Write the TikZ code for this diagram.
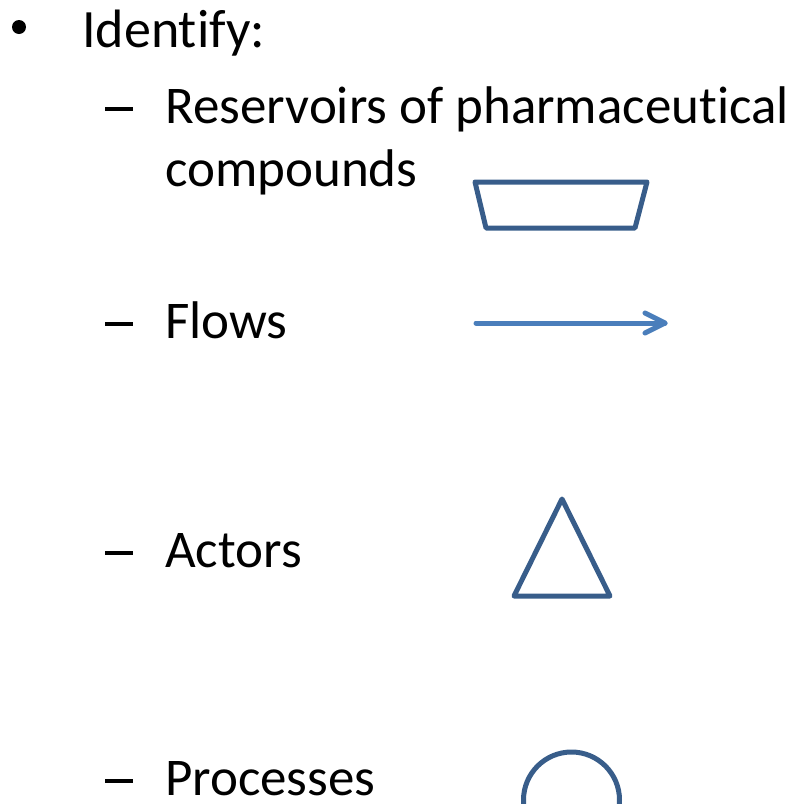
\documentclass[tikz,border=0pt]{standalone}
\usepackage{fontspec}
\setmainfont[Ligatures=NoCommon]{Carlito}
\definecolor{shapeblue}{HTML}{385D8A}
\definecolor{flowblue}{HTML}{4A7EBB}
\begin{document}
\begin{tikzpicture}[x=1pt,y=-1pt,
  lvlone/.style={anchor=base west,inner sep=0pt,font=\fontsize{54}{65}\selectfont},
  lvltwo/.style={anchor=base west,inner sep=0pt,font=\fontsize{53}{63}\selectfont},
  dashmark/.style={anchor=base west,inner sep=0pt},
  bulletmark/.style={circle,fill=black,inner sep=0pt,minimum size=14pt},
  symshape/.style={draw=shapeblue,line width=5pt,line join=round,line cap=round},
  flowline/.style={draw=flowblue,line width=5pt,line join=round,line cap=round}]
\useasboundingbox (0,0) rectangle (796,804);
% level one
\node[bulletmark] (b1) at (19,27) {};
\node[lvlone] (t1) at (82,47) {Identify:};
% level two dashes and texts
\node[dashmark] (d1) at (105,123) {\rule[12.5pt]{28pt}{3.5pt}};
\node[lvltwo] (t2) at (165,123) {Reservoirs of pharmaceutical};
\node[lvltwo] (t2b) at (165,186) {compounds};
\node[dashmark] (d2) at (105,338) {\rule[12.5pt]{28pt}{3.5pt}};
\node[lvltwo] (t3) at (165,338) {Flows};
\node[dashmark] (d3) at (105,567) {\rule[12.5pt]{28pt}{3.5pt}};
\node[lvltwo] (t4) at (165,567) {Actors};
\node[dashmark] (d4) at (105,795) {\rule[12.5pt]{28pt}{3.5pt}};
\node[lvltwo] (t5) at (165,795) {Processes};
% reservoir
\draw[symshape] (475,182) -- (647,182) -- (635,228) -- (486,228) -- cycle;
% flow
\coordinate (fa) at (476,323);
\coordinate (fb) at (665,323);
\draw[flowline] (fa) -- (fb);
\draw[flowline] (645,313) -- (fb) -- (645,333);
% actor
\draw[symshape] (562,499) -- (610,596) -- (514,596) -- cycle;
% process
\draw[symshape] (571.5,800) circle (48);
\end{tikzpicture}
\end{document}
